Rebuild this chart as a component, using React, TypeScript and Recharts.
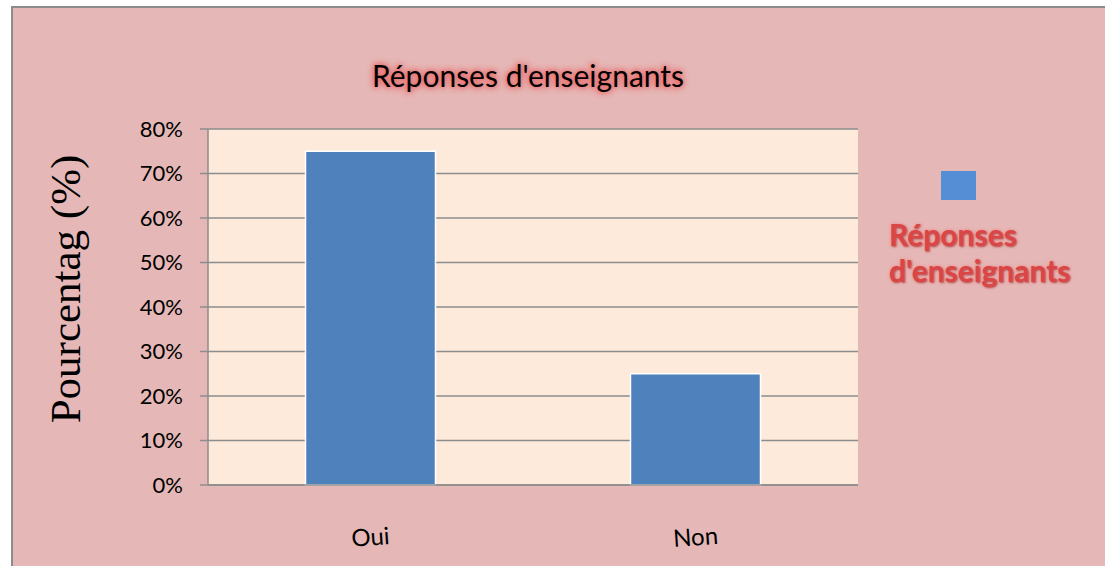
import React from "react";
import { BarChart, Bar, XAxis, YAxis, CartesianGrid, Legend } from "recharts";

const categories = ["Oui", "Non"];
const values = [0.75, 0.25];
const yTicks = [0, 0.1, 0.2, 0.3, 0.4, 0.5, 0.6, 0.7, 0.8];
const seriesName = "Réponses d'enseignants";
const titleText = "Réponses d'enseignants";
const yAxisTitle = "Pourcentag (%)";
const legendLines = ["Réponses", "d'enseignants"];

const data = categories.map((c, i) => ({ name: c, value: values[i] }));

const FONT = "Lato, 'Open Sans', sans-serif";

const XTick = (props: any) => {
  const { x, y, payload } = props;
  return (
    <g transform={`translate(${x},${y + 44}) rotate(-4)`}>
      <text textAnchor="middle" dy="0.35em" fontFamily={FONT} fontSize={24} fill="#000">
        {payload.value}
      </text>
    </g>
  );
};

const LegendContent = () => (
  <div style={{ width: 210, fontFamily: FONT }}>
    <div style={{ marginLeft: 52, width: 35, height: 29, background: "#558ED5" }} />
    <div
      style={{
        marginTop: 16,
        fontWeight: 700,
        fontSize: 30,
        lineHeight: "36px",
        color: "#DB4545",
        textShadow: "1px 1px 2px #B05050, 0 0 4px #F09090",
        whiteSpace: "nowrap",
      }}
    >
      {legendLines.map((l) => (
        <div key={l}>{l}</div>
      ))}
    </div>
  </div>
);

export default function App() {
  return (
    <div style={{ position: "absolute", left: 0, top: 0, width: 1105, height: 566, background: "#fff", overflow: "hidden" }}>
      <div
        style={{
          position: "absolute",
          left: 11,
          top: 6,
          width: 1110,
          height: 600,
          background: "#E5B8B7",
          border: "2px solid #8C8C8C",
        }}
      />
      <div
        style={{
          position: "absolute",
          left: 0,
          width: 1056,
          top: 56,
          textAlign: "center",
          fontFamily: FONT,
          fontSize: 30,
          lineHeight: "38px",
          color: "#000",
          textShadow: "0 0 4px #E86B6B, 0 0 6px #E86B6B, 0 0 8px #E87070",
        }}
      >
        {titleText}
      </div>
      <div
        style={{
          position: "absolute",
          left: 65,
          top: 289,
          transform: "translate(-50%, -50%) rotate(-90deg)",
          fontFamily: "'Liberation Serif', 'DejaVu Serif', serif",
          fontSize: 43,
          whiteSpace: "nowrap",
          color: "#000",
        }}
      >
        {yAxisTitle}
      </div>
      <div style={{ position: "absolute", left: 0, top: 0 }}>
        <BarChart
          width={1105}
          height={566}
          data={data}
          margin={{ top: 129, right: 247, bottom: 0, left: 0 }}
          barCategoryGap="30%"
        >
          <CartesianGrid
            vertical={false}
            fill="#FDEADB"
            stroke="#8C8C8C"
            strokeWidth={1.5}
            horizontalValues={yTicks}
          />
          <XAxis
            dataKey="name"
            tick={<XTick />}
            tickLine={false}
            axisLine={{ stroke: "#8C8C8C", strokeWidth: 1.5 }}
            height={81}
          />
          <YAxis
            width={208}
            domain={[0, 0.8]}
            ticks={yTicks}
            tickFormatter={(v: number) => `${Math.round(v * 100)}%`}
            tick={{ fontFamily: FONT, fontSize: 22, fill: "#000" }}
            tickSize={8}
            tickMargin={17}
            tickLine={{ stroke: "#8C8C8C", strokeWidth: 1.5 }}
            axisLine={{ stroke: "#8C8C8C", strokeWidth: 1.5 }}
            interval={0}
          />
          <Legend
            layout="vertical"
            align="center"
            verticalAlign="middle"
            content={<LegendContent />}
            wrapperStyle={{ left: 889, top: 171, width: 210 }}
          />
          <Bar
            dataKey="value"
            name={seriesName}
            fill="#4F81BD"
            stroke="#FFFFFF"
            strokeWidth={1.5}
            isAnimationActive={false}
          />
        </BarChart>
      </div>
    </div>
  );
}
